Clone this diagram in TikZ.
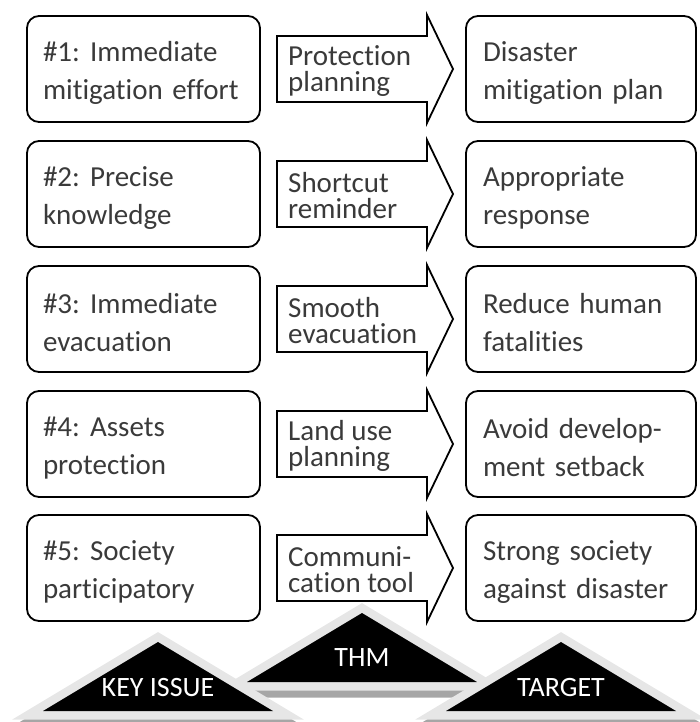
\documentclass[tikz,border=0pt]{standalone}
\usepackage{fontspec}
\setmainfont{Carlito}[Ligatures={NoCommon,NoRare,NoContextual}]
\definecolor{txtgray}{HTML}{3A3A3A}
\definecolor{edgegray}{HTML}{E6E6E6}
\definecolor{shadowgray}{HTML}{A6A6A6}
\begin{document}
\begin{tikzpicture}[x=1pt,y=-1pt,
  lbox/.style={draw=black, line width=1.8pt, rounded corners=12pt, minimum height=106pt,
    text width=201pt, inner xsep=16pt, inner ysep=0pt, align=left, text=txtgray,
    font=\fontsize{29}{38}\selectfont, execute at begin node={\rule{0pt}{27pt}}},
  rbox/.style={lbox, text width=196pt, inner xsep=17pt},
  arrowshape/.style={draw=black, line width=1.8pt, fill=white, line join=miter},
  arrowtext/.style={anchor=west, inner sep=0pt, align=left, text=txtgray,
    font=\fontsize{29}{26}\selectfont},
  triedge/.style={draw=edgegray, line width=17pt, line join=miter, miter limit=10},
  trishadow/.style={draw=shadowgray, fill=shadowgray, line width=17pt, line join=miter, miter limit=10},
  trilabel/.style={text=white, inner sep=0pt, font=\fontsize{28}{30}\selectfont}
]
\useasboundingbox (0,0) rectangle (699,722);

% rows
\foreach \i/\y/\l/\m/\r in {
  1/69/{\#1:\hspace{0.35em}Immediate\\mitigation~effort}/{Protection\\planning}/{Disaster\\mitigation~plan},
  2/194/{\#2:\hspace{0.35em}Precise\\knowledge}/{Shortcut\\reminder}/{Appropriate\\response},
  3/319/{\#3:\hspace{0.35em}Immediate\\evacuation}/{Smooth\\evacuation}/{Reduce~human\\fatalities},
  4/444/{\#4:\hspace{0.35em}Assets\\protection}/{Land~use\\planning}/{Avoid~develop-\\ment~setback},
  5/568/{\#5:\hspace{0.35em}Society\\participatory}/{Communi-\\cation~tool}/{Strong~society\\against~disaster}}{
  \node[lbox] (L\i) at (143.5,\y) {\l};
  \node[rbox] (R\i) at (581,\y) {\r};
  \draw[arrowshape] (277,\y-33) -- (427,\y-33) -- (427,\y-54) -- (453,\y)
     -- (427,\y+54) -- (427,\y+33) -- (277,\y+33) -- cycle;
  \node[arrowtext] (A\i) at (288,\y+2) {\m};
}

% triangles: THM first (behind)
\foreach \n/\cx/\ay/\lab/\ly in {thm/362/613/THM/657.5, key/158/642/KEY ISSUE/688, tgt/561/642/TARGET/688}{
  \path[trishadow] (\cx,\ay+7) -- (\cx+115,\ay+76) -- (\cx-115,\ay+76) -- cycle;
  \path[triedge] (\cx,\ay) -- (\cx+115,\ay+69) -- (\cx-115,\ay+69) -- cycle;
  \fill[black] (\cx,\ay) -- (\cx+115,\ay+69) -- (\cx-115,\ay+69) -- cycle;
  \node[trilabel] (\n) at (\cx,\ly) {\lab};
}
\end{tikzpicture}
\end{document}
